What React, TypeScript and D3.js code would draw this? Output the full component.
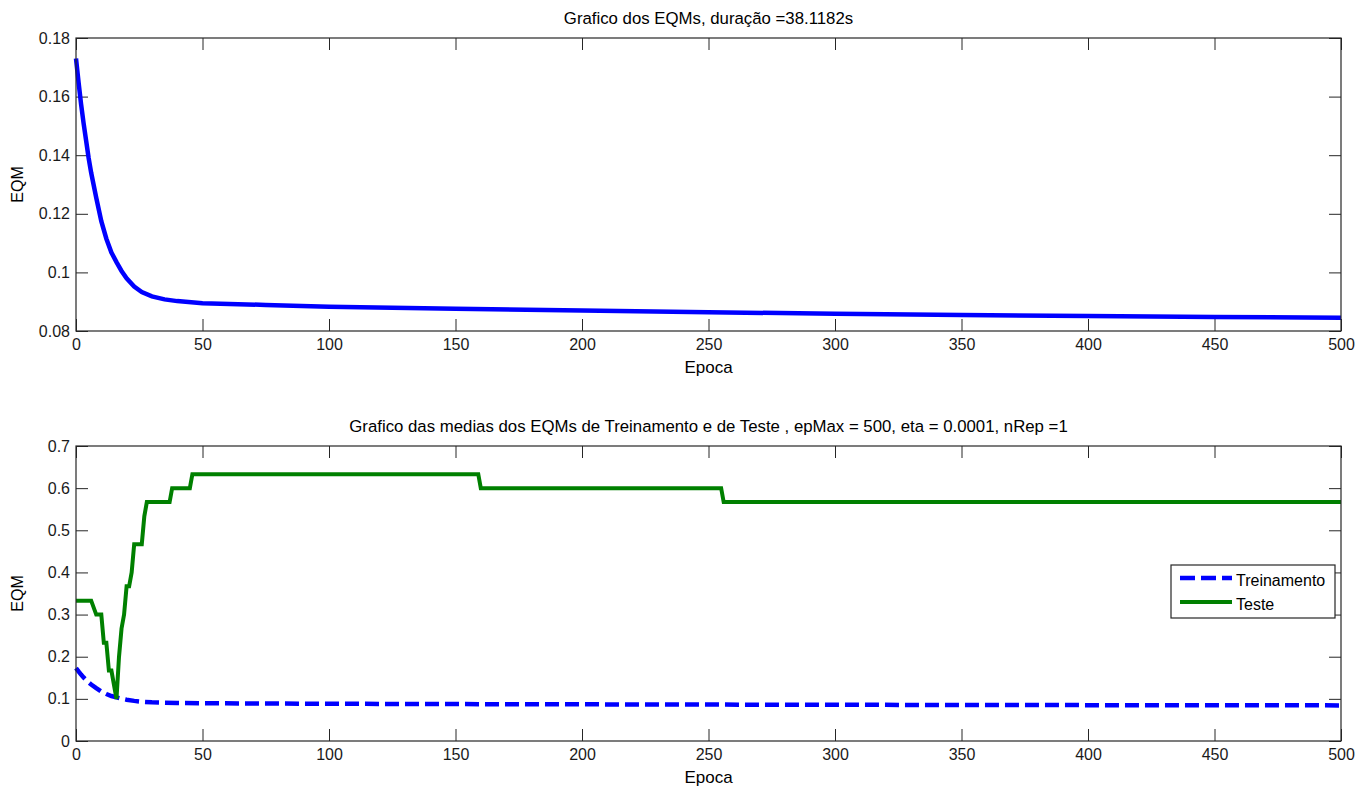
import * as d3 from "d3";
import React, { useRef, useEffect } from "react";

// EQM de treinamento
const epocas = [0, 1, 2, 3, 4, 5, 6, 8, 10, 12, 14, 16, 18, 20, 23, 26, 30, 35, 40, 50, 75, 100, 150, 200, 250, 300, 350, 400, 450, 500];
const eqmTreino = [0.173, 0.165, 0.1575, 0.1509, 0.145, 0.139, 0.134, 0.1255, 0.1175, 0.1115, 0.1068, 0.1035, 0.1005, 0.098, 0.0952, 0.0933, 0.0918, 0.0908, 0.0902, 0.0895, 0.0889, 0.0883, 0.0876, 0.087, 0.0864, 0.0859, 0.0855, 0.0851, 0.0848, 0.0845];

// EQM de teste
const epocasTeste = [0, 6, 8, 10, 11, 12, 13, 14, 16, 17, 18, 19, 20, 21, 22, 23, 26, 27, 28, 37, 38, 45, 46, 159, 160, 255, 256, 500];
const eqmTeste = [0.333, 0.333, 0.3, 0.3, 0.233, 0.233, 0.167, 0.167, 0.1, 0.2, 0.267, 0.3, 0.367, 0.367, 0.4, 0.467, 0.467, 0.533, 0.567, 0.567, 0.6, 0.6, 0.633, 0.633, 0.6, 0.6, 0.567, 0.567];

const xTicks = [0, 50, 100, 150, 200, 250, 300, 350, 400, 450, 500];
const yTicksTop = [0.08, 0.1, 0.12, 0.14, 0.16, 0.18];
const yTicksBottom = [0, 0.1, 0.2, 0.3, 0.4, 0.5, 0.6, 0.7];

const titulo1 = "Grafico dos EQMs, duração =38.1182s";
const titulo2 = "Grafico das medias dos EQMs de Treinamento e de Teste , epMax = 500, eta = 0.0001, nRep =1";
const legenda = ["Treinamento", "Teste"];

const W = 1370;
const H = 788;
const FONT = "'Liberation Sans', Arial, sans-serif";
const AZUL = "#0000ff";
const VERDE = "#008000";

function App() {
  const ref = useRef(null);

  useEffect(() => {
    const svg = d3.select(ref.current);
    svg.selectAll("*").remove();

    const left = 76;
    const right = 1341;

    const panel = (top, bottom, yDomain, yTicks, title) => {
      const x = d3.scaleLinear().domain([0, 500]).range([left, right]);
      const y = d3.scaleLinear().domain(yDomain).range([bottom, top]);
      const g = svg.append("g");

      g.append("text")
        .attr("x", (left + right) / 2)
        .attr("y", top - 14)
        .attr("text-anchor", "middle")
        .attr("font-size", 16.8)
        .text(title);

      // ticks para dentro, nos quatro lados
      const axB = g.append("g").attr("transform", `translate(0,${bottom})`)
        .call(d3.axisBottom(x).tickValues(xTicks).tickSizeInner(-12).tickSizeOuter(0).tickPadding(8).tickFormat(d3.format("d")));
      const axL = g.append("g").attr("transform", `translate(${left},0)`)
        .call(d3.axisLeft(y).tickValues(yTicks).tickSizeInner(-12).tickSizeOuter(0).tickPadding(6).tickFormat((d) => String(+d.toFixed(2))));
      const axT = g.append("g").attr("transform", `translate(0,${top})`)
        .call(d3.axisTop(x).tickValues(xTicks).tickSizeInner(-12).tickSizeOuter(0).tickFormat(() => ""));
      const axR = g.append("g").attr("transform", `translate(${right},0)`)
        .call(d3.axisRight(y).tickValues(yTicks).tickSizeInner(-12).tickSizeOuter(0).tickFormat(() => ""));
      [axB, axL, axT, axR].forEach((a) => {
        a.attr("font-family", FONT).attr("font-size", 16);
        a.select(".domain").remove();
        a.selectAll("line").attr("stroke", "#262626");
        a.selectAll("text").attr("fill", "#1a1a1a");
      });

      g.append("text")
        .attr("x", (left + right) / 2)
        .attr("y", bottom + 42)
        .attr("text-anchor", "middle")
        .attr("font-size", 17)
        .text("Epoca");
      g.append("text")
        .attr("transform", `translate(23,${(top + bottom) / 2}) rotate(-90)`)
        .attr("text-anchor", "middle")
        .attr("font-size", 16)
        .text("EQM");

      const line = d3.line().x((d) => x(d[0])).y((d) => y(d[1]));
      return { g, x, y, line, top, bottom };
    };

    // grafico de cima
    const p1 = panel(38, 331, [0.08, 0.18], yTicksTop, titulo1);
    p1.g.append("path")
      .datum(epocas.map((e, i) => [e, eqmTreino[i]]))
      .attr("d", p1.line)
      .attr("fill", "none")
      .attr("stroke", AZUL)
      .attr("stroke-width", 4.5);
    p1.g.append("rect")
      .attr("x", left).attr("y", p1.top)
      .attr("width", right - left).attr("height", p1.bottom - p1.top)
      .attr("fill", "none").attr("stroke", "#262626").attr("stroke-width", 1.2);

    // grafico de baixo
    const p2 = panel(446, 741, [0, 0.7], yTicksBottom, titulo2);
    p2.g.append("path")
      .datum(epocas.map((e, i) => [e, eqmTreino[i]]))
      .attr("d", p2.line)
      .attr("fill", "none")
      .attr("stroke", AZUL)
      .attr("stroke-width", 4.5)
      .attr("stroke-dasharray", "14,6");
    p2.g.append("path")
      .datum(epocasTeste.map((e, i) => [e, eqmTeste[i]]))
      .attr("d", p2.line)
      .attr("fill", "none")
      .attr("stroke", VERDE)
      .attr("stroke-width", 4);
    p2.g.append("rect")
      .attr("x", left).attr("y", p2.top)
      .attr("width", right - left).attr("height", p2.bottom - p2.top)
      .attr("fill", "none").attr("stroke", "#262626").attr("stroke-width", 1.2);

    // legenda
    const lg = p2.g.append("g").attr("transform", "translate(1171,565)");
    lg.append("rect").attr("width", 164).attr("height", 53)
      .attr("fill", "white").attr("stroke", "#262626").attr("stroke-width", 1.2);
    legenda.forEach((nome, i) => {
      const yy = 13 + i * 24;
      lg.append("line")
        .attr("x1", 9).attr("x2", 61).attr("y1", yy).attr("y2", yy)
        .attr("stroke", i === 0 ? AZUL : VERDE)
        .attr("stroke-width", i === 0 ? 4.5 : 4)
        .attr("stroke-dasharray", i === 0 ? "15,6" : null);
      lg.append("text")
        .attr("x", 65).attr("y", yy + 8)
        .attr("font-size", 16)
        .text(nome);
    });
  }, []);

  return (
    <div style={{ position: "absolute", left: 0, top: 0, background: "white" }}>
      <svg ref={ref} width={W} height={H} fontFamily={FONT} style={{ display: "block" }}></svg>
    </div>
  );
}

export default App;
